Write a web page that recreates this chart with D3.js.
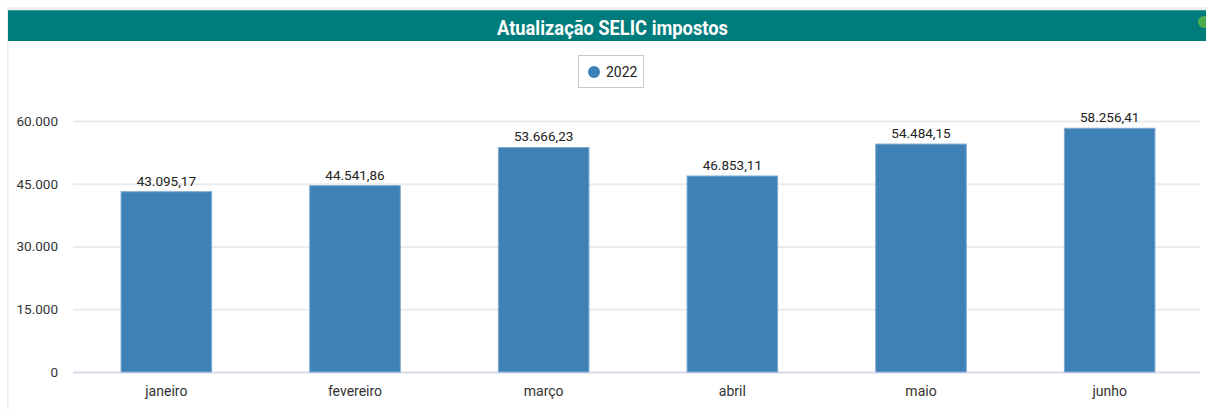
<!DOCTYPE html>
<html>
<head>
<meta charset="utf-8">
<script src="https://cdn.jsdelivr.net/npm/d3@7"></script>
<style>
  body { margin: 0; background: #fff; }
  svg { display: block; }
</style>
</head>
<body>
<div id="chart"></div>
<script>
const months = ["janeiro", "fevereiro", "março", "abril", "maio", "junho"];
const values2022 = [43095.17, 44541.86, 53666.23, 46853.11, 54484.15, 58256.41];
const yTicks = [0, 15000, 30000, 45000, 60000];
const seriesName = "2022";
const title = "Atualização SELIC impostos";

const W = 1206, H = 410;
const svg = d3.select("#chart").append("svg").attr("width", W).attr("height", H);

// frame
svg.append("rect").attr("x", 7).attr("y", 7).attr("width", W - 7).attr("height", 3).attr("fill", "#efefef");
svg.append("rect").attr("x", 7).attr("y", 7).attr("width", 1.5).attr("height", H).attr("fill", "#efefef");

// header
svg.append("rect").attr("x", 8).attr("y", 10).attr("width", W - 8).attr("height", 31).attr("fill", "#007c7c");
svg.append("rect").attr("x", 8).attr("y", 10).attr("width", W - 8).attr("height", 1).attr("fill", "#3a9a9a");
svg.append("text").attr("x", 497).attr("y", 35)
  .attr("textLength", 231).attr("lengthAdjust", "spacingAndGlyphs")
  .style("font-family", "Roboto, sans-serif")
  .style("font-weight", "bold").style("font-size", "21px").attr("fill", "#fff")
  .text(title);
svg.append("circle").attr("cx", 1204).attr("cy", 22).attr("r", 6).attr("fill", "#4cae4c");

// legend
const lg = svg.append("g");
lg.append("rect").attr("x", 578.5).attr("y", 55.5).attr("width", 65).attr("height", 32)
  .attr("fill", "#fff").attr("stroke", "#c8c8c8");
lg.append("circle").attr("cx", 594).attr("cy", 72).attr("r", 6).attr("fill", "#3d81b6");
lg.append("text").attr("x", 606).attr("y", 77)
  .style("font-family", "Roboto, sans-serif").style("font-size", "14px").attr("fill", "#222")
  .text(seriesName);

// scales
const x = d3.scaleBand().domain(months).range([72, 1204]).paddingInner(0.52).paddingOuter(0.26);
const y = d3.scaleLinear().domain([0, 60000]).range([372, 121]);

const fmtTick = d3.formatLocale({ decimal: ",", thousands: ".", grouping: [3], currency: ["R$", ""] });
const tickFmt = fmtTick.format(",.0f");
const valFmt = fmtTick.format(",.2f");

// grid
const yAxis = d3.axisLeft(y).tickValues(yTicks).tickSize(-(1200 - 73)).tickFormat(tickFmt).tickPadding(15);
const gy = svg.append("g").attr("transform", "translate(73,0)").call(yAxis);
gy.select(".domain").remove();
gy.selectAll(".tick line").attr("stroke", d => d === 0 ? "#d9dce6" : "#ebebeb").attr("stroke-width", 2);
gy.selectAll(".tick text")
  .style("font-family", "Roboto, sans-serif").style("font-size", "13.5px").attr("fill", "#333");

// bars
svg.append("g").selectAll("rect").data(values2022).join("rect")
  .attr("x", (d, i) => x(months[i]))
  .attr("y", d => y(d))
  .attr("width", x.bandwidth())
  .attr("height", d => y(0) - y(d))
  .attr("fill", "#3d81b6")
  .attr("stroke", "#7eaad0").attr("stroke-width", 1);

// value labels
svg.append("g").selectAll("text").data(values2022).join("text")
  .attr("x", (d, i) => x(months[i]) + x.bandwidth() / 2)
  .attr("y", d => y(d) - 6)
  .attr("text-anchor", "middle")
  .style("font-family", "Roboto, sans-serif").style("font-size", "13.5px").attr("fill", "#222")
  .text(d => valFmt(d));

// x axis labels
const xAxis = d3.axisBottom(x).tickSize(0).tickPadding(14);
const gx = svg.append("g").attr("transform", "translate(0,372)").call(xAxis);
gx.select(".domain").remove();
gx.selectAll(".tick text")
  .style("font-family", "Roboto, sans-serif").style("font-size", "14px").attr("fill", "#333");
</script>
</body>
</html>
